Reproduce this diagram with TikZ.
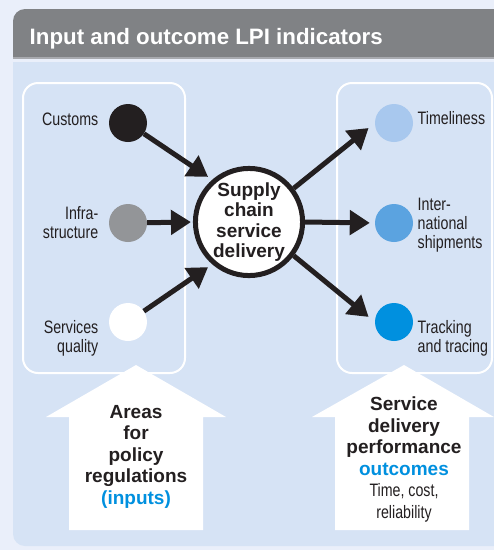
\documentclass[tikz,border=0pt]{standalone}
\usepackage{fontspec}
\setmainfont{Liberation Sans}
\newfontfamily\condfont[FakeStretch=0.79]{Liberation Sans}
\usetikzlibrary{arrows.meta}
\definecolor{outerbg}{RGB}{234,239,250}
\definecolor{panelblue}{RGB}{214,227,245}
\definecolor{headgray}{RGB}{128,130,133}
\definecolor{sepgray}{RGB}{168,170,175}
\definecolor{dotblack}{RGB}{35,31,32}
\definecolor{dotgray}{RGB}{147,149,152}
\definecolor{dotlight}{RGB}{168,200,238}
\definecolor{dotmid}{RGB}{91,163,224}
\definecolor{dotdark}{RGB}{0,144,223}
\definecolor{accent}{RGB}{0,144,223}
\tikzset{
  dot/.style={circle, minimum size=38pt, inner sep=0pt},
  flow/.style={line width=5pt, draw=dotblack, -{Triangle[length=20pt,width=24pt]}},
  lbl/.style={inner sep=0pt, font=\condfont\fontsize{18}{18.8}\selectfont, text=dotblack},
  bigtxt/.style={inner sep=0pt, align=center, font=\bfseries\fontsize{19}{21.5}\selectfont, text=dotblack},
  groupbox/.style={draw=white, line width=2pt, rounded corners=15pt},
  housearrow/.style={fill=white}
}
\begin{document}
\begin{tikzpicture}[x=1pt,y=-1pt]
\fill[outerbg] (0,0) rectangle (494,550);
\useasboundingbox (0,0) rectangle (494,550);
% header
\begin{scope}
\clip (0,0) rectangle (494,57);
\fill[headgray, rounded corners=12pt] (13,9) rectangle (530,100);
\end{scope}
\fill[sepgray] (13,57) rectangle (494,58.5);
% panel
\begin{scope}
\clip (0,62) rectangle (494,550);
\fill[panelblue, rounded corners=12pt] (13,20) rectangle (530,546);
\end{scope}
\node[anchor=base west, inner sep=0pt, text=white, font=\bfseries\fontsize{22.3}{26}\selectfont] (title) at (29.5,44.3) {Input and outcome LPI indicators};
% group boxes
\draw[groupbox] (23,83) rectangle (185,373);
\draw[groupbox] (337,83) rectangle (492,373);
% house arrows
\fill[housearrow] (136,365) -- (226,417) -- (203,417) -- (203,530) -- (69,530) -- (69,417) -- (46,417) -- cycle;
\fill[housearrow] (404,365) -- (494,417) -- (469,417) -- (469,530) -- (335,530) -- (335,417) -- (312,417) -- cycle;
% input dots
\node[dot, fill=dotblack] (cust) at (128,123) {};
\node[dot, fill=dotgray] (infra) at (128,223) {};
\node[dot, fill=white] (serv) at (128,322) {};
% output dots
\node[dot, fill=dotlight] (time) at (394,123) {};
\node[dot, fill=dotmid] (intl) at (394,223) {};
\node[dot, fill=dotdark] (track) at (394,322) {};
% centre
\node[circle, draw=dotblack, line width=5pt, fill=white, minimum size=103pt, inner sep=0pt,
      align=center, font=\bfseries\fontsize{19}{20.6}\selectfont, text=dotblack] (sc) at (249,222)
      {Supply\\chain\\service\\delivery};
% labels
\node[lbl, anchor=north east, align=right] (lcust) at (98.5,113) {Customs};
\node[lbl, anchor=north east, align=right] (linfra) at (98.5,206.5) {Infra-\\structure};
\node[lbl, anchor=north east, align=right] (lserv) at (98.5,320.5) {Services\\quality};
\node[lbl, anchor=north west, align=left] (ltime) at (417.5,111.5) {Timeliness};
\node[lbl, anchor=north west, align=left] (lintl) at (417.5,198) {Inter-\\national\\shipments};
\node[lbl, anchor=north west, align=left] (ltrack) at (417.5,320) {Tracking\\and tracing};
% arrows
\draw[flow, shorten >=5pt] (cust) -- (sc.131);
\draw[flow, shorten >=2pt] (infra) -- (sc.180);
\draw[flow, shorten >=5pt] (serv) -- (sc.229);
\draw[flow, shorten >=8pt] (sc.37) -- (time.west);
\draw[flow, shorten >=5pt] (sc.0) -- (intl.west);
\draw[flow, shorten >=8pt] (sc.-37) -- (track.west);
% bottom texts
\node[bigtxt, anchor=north] (inputs) at (136,405) {Areas\\for\\policy\\regulations\\\textcolor{accent}{(inputs)}};
\node[bigtxt, anchor=north] (outcomes) at (404,397) {Service\\delivery\\performance\\\textcolor{accent}{outcomes}\\{\mdseries\condfont\fontsize{18}{21}\selectfont Time, cost,}\\{\mdseries\condfont\fontsize{18}{21}\selectfont reliability}};
\end{tikzpicture}
\end{document}
